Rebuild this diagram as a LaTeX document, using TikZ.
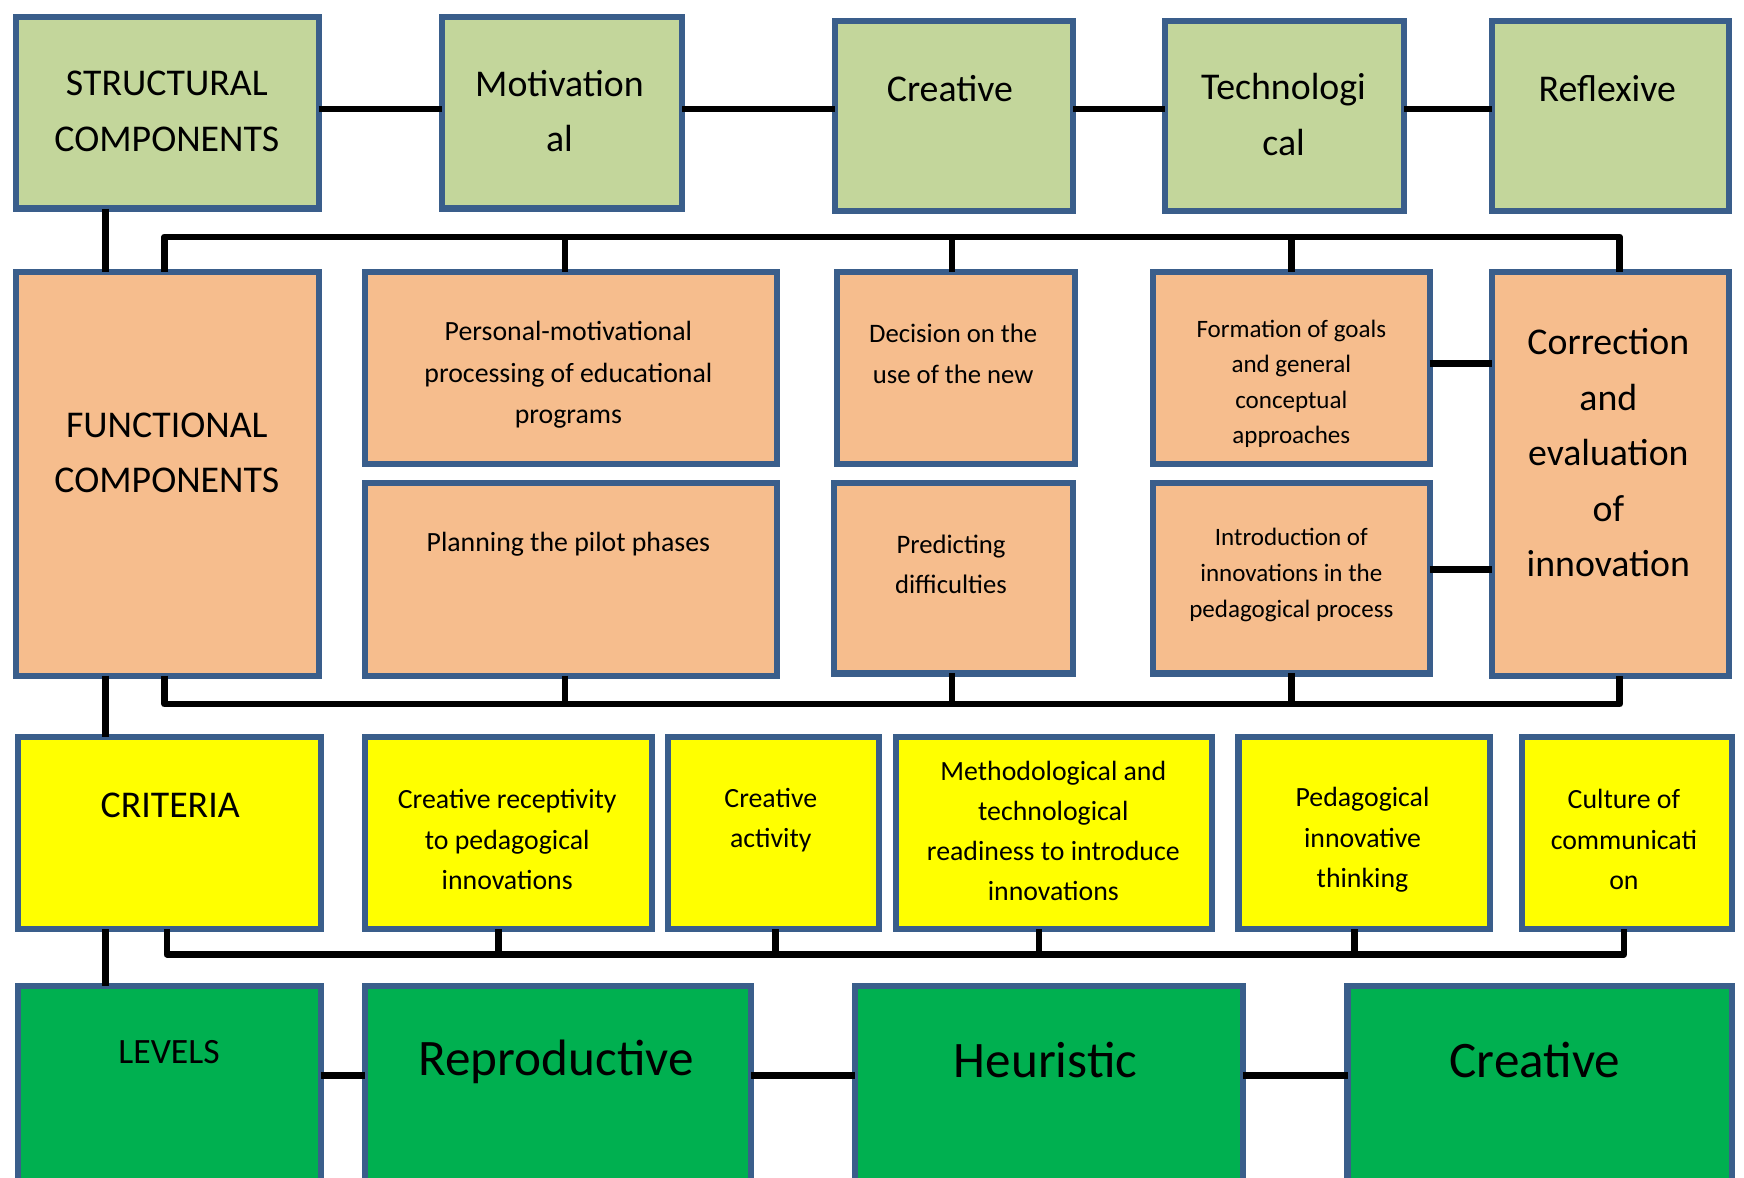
\documentclass[tikz,border=0pt]{standalone}
\usepackage{fontspec}
\setmainfont{Carlito}
\definecolor{bord}{HTML}{3A5E8B}
\definecolor{lgreen}{HTML}{C3D69B}
\definecolor{orng}{HTML}{F6BD8D}
\definecolor{yel}{HTML}{FFFF00}
\definecolor{dgreen}{HTML}{00B050}
\newcommand{\mkbox}[6]{%
  \node[bx, fill=#2, minimum width={#5-#3-5}, minimum height={#6-#4-5}] (#1) at ({(#3+#5)/2},{(#4+#6)/2}) {};}
\tikzset{
  bx/.style={draw=bord, line width=5.5pt, inner sep=0pt, outer sep=0pt},
  conn/.style={line width=6pt, black},
  tbig/.style={font=\fontsize{34}{50}\selectfont, align=center, inner sep=0pt},
  tlev/.style={font=\fontsize{46}{56}\selectfont, align=center, inner sep=0pt},
  tmid/.style={font=\fontsize{25}{37}\selectfont, align=center, inner sep=0pt},
  tsml/.style={font=\fontsize{22.5}{32}\selectfont, align=center, inner sep=0pt},
}
\begin{document}
\begin{tikzpicture}[x=1pt,y=-1pt]
\useasboundingbox (0,0) rectangle (1568,1059);
\clip (0,0) rectangle (1568,1059);
\fill[white] (0,0) rectangle (1568,1059);
% Row 1
\mkbox{s1}{lgreen}{12}{13}{289}{190}
\mkbox{s2}{lgreen}{395}{13}{616}{190}
\mkbox{s3}{lgreen}{748}{16}{967}{192}
\mkbox{s4}{lgreen}{1045}{16}{1265}{192}
\mkbox{s5}{lgreen}{1339}{16}{1557}{192}
% Row 2
\mkbox{f1}{orng}{12}{242}{289}{610}
\mkbox{pm}{orng}{326}{242}{701}{420}
\mkbox{pl}{orng}{326}{432}{701}{610}
\mkbox{de}{orng}{750}{242}{969}{420}
\mkbox{pr}{orng}{747}{432}{967}{608}
\mkbox{fo}{orng}{1034}{242}{1288}{420}
\mkbox{in}{orng}{1034}{432}{1288}{608}
\mkbox{co}{orng}{1339}{242}{1557}{610}
% Row 3
\mkbox{c0}{yel}{14}{660}{291}{838}
\mkbox{c1}{yel}{326}{660}{589}{838}
\mkbox{c2}{yel}{598}{660}{793}{838}
\mkbox{c3}{yel}{803}{660}{1092}{838}
\mkbox{c4}{yel}{1111}{660}{1342}{838}
\mkbox{c5}{yel}{1366}{660}{1560}{838}
% Row 4
\mkbox{l0}{dgreen}{14}{884}{291}{1100}
\mkbox{l1}{dgreen}{326}{884}{678}{1100}
\mkbox{l2}{dgreen}{766}{884}{1120}{1100}
\mkbox{l3}{dgreen}{1209}{884}{1560}{1100}
% bus coordinates
\coordinate (r1) at (0,98);
\coordinate (tb) at (0,213);
\coordinate (bb) at (0,633);
\coordinate (cb) at (0,858);
\coordinate (r4) at (0,967);
\coordinate (ra) at (0,327);
\coordinate (rb) at (0,512);
% Row 1 connectors
\draw[conn] (s1.east |- r1) -- (s2.west |- r1);
\draw[conn] (s2.east |- r1) -- (s3.west |- r1);
\draw[conn] (s3.east |- r1) -- (s4.west |- r1);
\draw[conn] (s4.east |- r1) -- (s5.west |- r1);
% Vertical left spine
\draw[conn] ([xshift=-55.5]s1.south) -- ([xshift=-55.5]f1.north);
\draw[conn] ([xshift=-55.5]f1.south) -- ([xshift=-57.5]c0.north);
\draw[conn] ([xshift=-57.5]c0.south) -- ([xshift=-57.5]l0.north);
% Top bus
\draw[conn, line join=round] ([xshift=-2.5]f1.north) -- ([xshift=-2.5]f1.north |- tb) -- ([xshift=8]co.north |- tb) -- ([xshift=8]co.north);
\draw[conn] ([xshift=-5.5]pm.north) -- ([xshift=-5.5]pm.north |- tb);
\draw[conn] ([xshift=-3.5]de.north) -- ([xshift=-3.5]de.north |- tb);
\draw[conn] (fo.north) -- (fo.north |- tb);
% Row 2 side connectors
\draw[conn] (fo.east |- ra) -- (co.west |- ra);
\draw[conn] (in.east |- rb) -- (co.west |- rb);
% Bottom bus of row 2
\draw[conn, line join=round] ([xshift=-2.5]f1.south) -- ([xshift=-2.5]f1.south |- bb) -- ([xshift=8]co.south |- bb) -- ([xshift=8]co.south);
\draw[conn] ([xshift=-5.5]pl.south) -- ([xshift=-5.5]pl.south |- bb);
\draw[conn] ([xshift=-1]pr.south) -- ([xshift=-1]pr.south |- bb);
\draw[conn] (in.south) -- (in.south |- bb);
% Criteria bus
\draw[conn, line join=round] ([xshift=-2.5]c0.south) -- ([xshift=-2.5]c0.south |- cb) -- ([xshift=-3]c5.south |- cb) -- ([xshift=-3]c5.south);
\draw[conn] ([xshift=-9.5]c1.south) -- ([xshift=-9.5]c1.south |- cb);
\draw[conn] ([xshift=1.5]c2.south) -- ([xshift=1.5]c2.south |- cb);
\draw[conn] ([xshift=-13.5]c3.south) -- ([xshift=-13.5]c3.south |- cb);
\draw[conn] ([xshift=-8.5]c4.south) -- ([xshift=-8.5]c4.south |- cb);
% Row 4 connectors
\draw[conn] (l0.east |- r4) -- (l1.west |- r4);
\draw[conn] (l1.east |- r4) -- (l2.west |- r4);
\draw[conn] (l2.east |- r4) -- (l3.west |- r4);
% Texts row 1
\node[tbig] (ts1) at (150,100) {STRUCTURAL\\COMPONENTS};
\node[tbig] (ts2) at (503,100) {Motivation\\al};
\node[tbig] (ts3) at (854,80) {Creative};
\node[tbig] (ts4) at (1154,103) {Technologi\\cal};
\node[tbig] (ts5) at (1445,80) {Reflexive};
% Texts row 2
\node[tbig] (tf1) at (150,407) {FUNCTIONAL\\COMPONENTS};
\node[tmid] (tpm) at (511,337) {Personal-motivational\\processing of educational\\programs};
\node[tmid] (tpl) at (511,489) {Planning the pilot phases};
\node[tmid, font=\fontsize{24}{37}\selectfont] (tde) at (857,318.5) {Decision on the\\use of the new};
\node[tmid, font=\fontsize{24}{36}\selectfont] (tpr) at (855,507) {Predicting\\difficulties};
\node[tsml] (tfo) at (1161,345) {Formation of goals\\and general\\conceptual\\approaches};
\node[tsml] (tin) at (1161,517) {Introduction of\\innovations in the\\pedagogical process};
\node[tbig] (tco) at (1446,407) {Correction\\and\\evaluation\\of\\innovation};
% Texts row 3
\node[tbig] (tc0) at (153,724) {CRITERIA};
\node[tmid, font=\fontsize{25}{36.5}\selectfont] (tc1) at (456,755) {Creative receptivity\\to pedagogical\\innovations};
\node[tmid, font=\fontsize{25}{36.5}\selectfont] (tc2) at (693,737.5) {Creative\\activity};
\node[tmid, font=\fontsize{25}{36}\selectfont] (tc3) at (947,747) {Methodological and\\technological\\readiness to introduce\\innovations};
\node[tmid, font=\fontsize{25}{36.5}\selectfont] (tc4) at (1225,755) {Pedagogical\\innovative\\thinking};
\node[tmid, font=\fontsize{25}{36.5}\selectfont] (tc5) at (1460,755) {Culture of\\communicati\\on};
% Texts row 4
\node[tbig, font=\fontsize{32}{40}\selectfont] (tl0) at (152,946) {LEVELS};
\node[tlev] (tl1) at (500,955) {Reproductive};
\node[tlev] (tl2) at (940,953) {Heuristic};
\node[tlev] (tl3) at (1380,953) {Creative};
\end{tikzpicture}
\end{document}
